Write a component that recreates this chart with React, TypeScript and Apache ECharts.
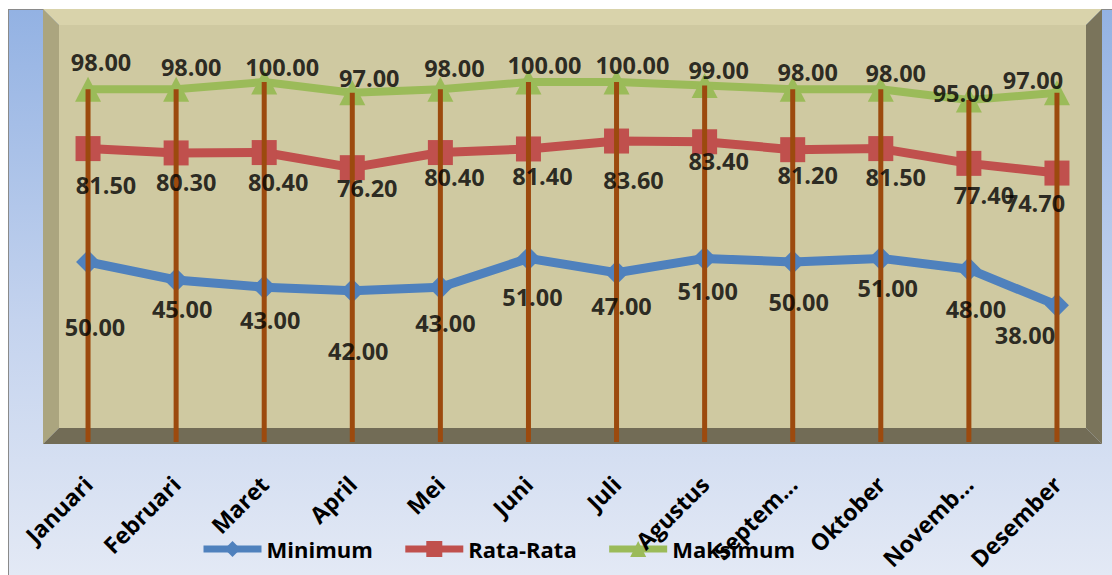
import React, { useEffect, useRef } from "react";
import * as echarts from "echarts";

const months = [
  "Januari", "Februari", "Maret", "April", "Mei", "Juni",
  "Juli", "Agustus", "September", "Oktober", "November", "Desember",
];
const tickLabels = [
  "Januari", "Februari", "Maret", "April", "Mei", "Juni",
  "Juli", "Agustus", "Septem...", "Oktober", "Novemb...", "Desember",
];
const minimum = [50, 45, 43, 42, 43, 51, 47, 51, 50, 51, 48, 38];
const rataRata = [81.5, 80.3, 80.4, 76.2, 80.4, 81.4, 83.6, 83.4, 81.2, 81.5, 77.4, 74.7];
const maksimum = [98, 98, 100, 97, 98, 100, 100, 99, 98, 98, 95, 97];
const seriesNames = ["Minimum", "Rata-Rata", "Maksimum"];

// label placement offsets (px) relative to each point, as Excel laid them out
const minLabelOffsets = [
  [7, 65], [6, 29], [6, 33], [6, 60], [5, 36], [4, 39],
  [5, 33], [3, 33], [6, 40], [7, 30], [7, 40], [-32, 30],
];
const avgLabelOffsets = [
  [18, 36], [10, 29], [14, 29], [15, 20], [14, 24], [14, 27],
  [17, 39], [14, 19], [15, 25], [15, 28], [15, 32], [-22, 30],
];
const maxLabelOffsets = [
  [13, -27], [15, -22], [18, -15], [17, -15], [14, -21], [16, -17],
  [16, -17], [14, -16], [15, -17], [15, -16], [-6, -7], [-24, -13],
];

const FONT = "'Open Sans', 'DejaVu Sans', sans-serif";

export default function App() {
  const ref = useRef<HTMLDivElement>(null);

  useEffect(() => {
    const chart = echarts.init(ref.current!, null, { renderer: "svg" });

    const labelSeries = (name: string, values: number[], offsets: number[][]) => ({
      type: "scatter",
      name,
      data: values.map((v, i) => ({ value: v, label: { offset: offsets[i] } })),
      symbol: "circle",
      symbolSize: 1,
      itemStyle: { color: "rgba(0,0,0,0)" },
      z: 4,
      silent: true,
      label: {
        show: true,
        position: "inside",
        formatter: (p: any) => Number(p.value).toFixed(2),
        fontFamily: FONT,
        fontSize: 23.5,
        fontWeight: "bold",
        color: "#000",
      },
    });

    const lineSeries = (
      name: string,
      values: number[],
      color: string,
      symbol: string,
      symbolSize: number[],
      width: number
    ) => ({
      type: "line",
      name,
      data: values,
      symbol,
      symbolSize,
      itemStyle: { color },
      lineStyle: { color, width, join: "round" },
      z: 2,
      silent: true,
    });

    chart.setOption({
      animation: false,
      backgroundColor: "transparent",
      graphic: [
        { type: "rect", shape: { x: 59, y: 25, width: 1027, height: 403 }, style: { fill: "#CFC9A1" }, z: 0, silent: true },
        { type: "polygon", shape: { points: [[43, 9], [1102, 9], [1086, 25], [59, 25]] }, style: { fill: "#D9D3AB" }, z: 0, silent: true },
        { type: "polygon", shape: { points: [[43, 9], [59, 25], [59, 428], [43, 444]] }, style: { fill: "#ABA57F" }, z: 0, silent: true },
        { type: "polygon", shape: { points: [[1102, 9], [1102, 444], [1086, 428], [1086, 25]] }, style: { fill: "#7A745B" }, z: 0, silent: true },
        { type: "polygon", shape: { points: [[43, 444], [59, 428], [1086, 428], [1102, 444]] }, style: { fill: "#726C56" }, z: 0, silent: true },
      ],
      grid: { left: 44, right: 11, top: 10, bottom: 133, containLabel: false },
      legend: {
        data: seriesNames,
        left: 200,
        top: 538,
        padding: 0,
        itemWidth: 58,
        itemHeight: 20,
        itemGap: 29,
        z: 3,
        lineStyle: { width: 7 },
        textStyle: { fontFamily: FONT, fontSize: 22, fontWeight: "bold", color: "#000" },
      },
      xAxis: {
        type: "category",
        data: months,
        boundaryGap: true,
        z: 5,
        axisLine: { show: false },
        axisTick: { show: false },
        splitLine: { show: false },
        axisLabel: {
          interval: 0,
          rotate: 45,
          margin: 38,
          fontFamily: FONT,
          fontSize: 23,
          fontWeight: "bold",
          color: "#000",
          formatter: (_v: string, i: number) => tickLabels[i],
        },
      },
      yAxis: {
        type: "value",
        min: 0,
        max: 120,
        show: false,
        splitLine: { show: false },
      },
      series: [
        lineSeries("Minimum", minimum, "#4F81BD", "diamond", [24, 24], 9),
        lineSeries("Rata-Rata", rataRata, "#C0504D", "rect", [25, 25], 9),
        lineSeries("Maksimum", maksimum, "#9BBB59", "triangle", [26, 25], 8),
        {
          type: "bar",
          name: "dropLines",
          data: maksimum,
          barWidth: 5,
          itemStyle: { color: "#9C4A0E" },
          z: 3,
          silent: true,
        },
        labelSeries("Minimum-labels", minimum, minLabelOffsets),
        labelSeries("Rata-Rata-labels", rataRata, avgLabelOffsets),
        labelSeries("Maksimum-labels", maksimum, maxLabelOffsets),
      ],
    });

    return () => chart.dispose();
  }, []);

  return (
    <div style={{ position: "fixed", left: 0, top: 0, width: 1112, height: 575, background: "#fff", overflow: "hidden" }}>
      <div
        style={{
          position: "absolute",
          left: 8,
          top: 9,
          width: 1104,
          height: 566,
          boxSizing: "border-box",
          borderLeft: "1px solid #8a8a8a",
          borderTop: "1px solid #8a8a8a",
          background: "linear-gradient(to bottom, #93b2e3 0%, #c4d3ee 55%, #e3e9f5 100%)",
        }}
      />
      <div ref={ref} style={{ position: "absolute", left: 0, top: 0, width: 1112, height: 575 }} />
    </div>
  );
}
